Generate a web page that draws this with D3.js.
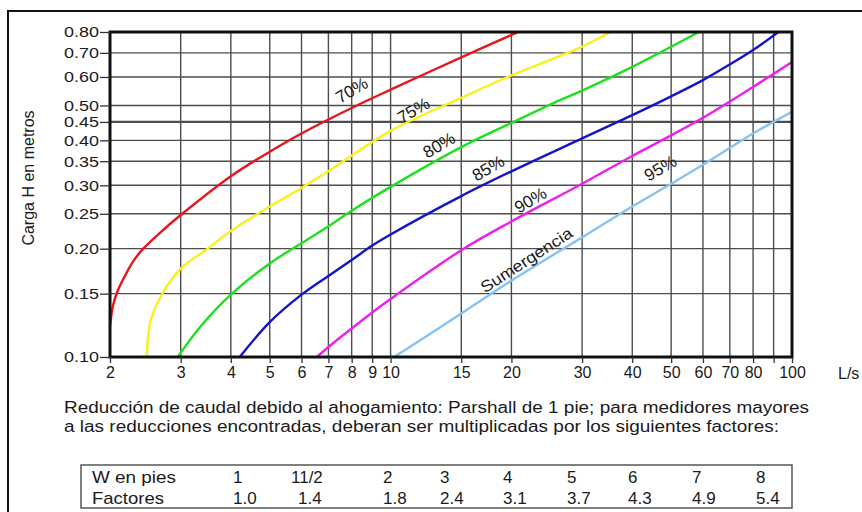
<!DOCTYPE html>
<html lang="es">
<head>
  <meta charset="UTF-8">
  <title>Sumergencia Parshall</title>
</head>
<body>
<style>
  * {
    padding: 0;
    margin: 0;
  }

  #app svg {
    display: block;
    background: #fff;
    font-family: "Liberation Sans", Arial, sans-serif;
  }
</style>

<div id="app"></div>

<script src="https://cdn.jsdelivr.net/npm/d3@7/dist/d3.min.js"></script>
<script>
  // ejes: caudal en L/s (log) y carga H en metros (log)
  var xTicks = [2, 3, 4, 5, 6, 7, 8, 9, 10, 15, 20, 30, 40, 50, 60, 70, 80, 100];
  var xGrid = [2, 3, 4, 5, 6, 7, 8, 9, 10, 15, 20, 30, 40, 50, 60, 70, 80, 90, 100];
  var yTicks = [0.10, 0.15, 0.20, 0.25, 0.30, 0.35, 0.40, 0.45, 0.50, 0.60, 0.70, 0.80];

  // curvas  [Q (L/s), H (m)]
  var curve70 = [[2, 0.122], [2.035, 0.139], [2.087, 0.152], [2.167, 0.166], [2.282, 0.184], [2.42, 0.20],
    [2.66, 0.221], [3, 0.248], [4, 0.318], [5, 0.372], [6, 0.418], [8, 0.492], [10, 0.553], [15, 0.68], [20.8, 0.80]];
  var curve75 = [[2.47, 0.10], [2.52, 0.125], [2.7, 0.15], [3, 0.176], [3.5, 0.20], [4, 0.224],
    [5, 0.262], [6, 0.295], [7.1, 0.332], [10, 0.425], [15, 0.525], [20, 0.606], [29.8, 0.726], [35.3, 0.80]];
  var curve80 = [[2.95, 0.10], [3.35, 0.121], [4, 0.149], [5, 0.182], [6, 0.207], [7.1, 0.233], [8, 0.255],
    [10, 0.297], [15, 0.383], [20, 0.447], [26.5, 0.518], [30, 0.55], [40, 0.64], [58.6, 0.80]];
  var curve85 = [[4.21, 0.10], [5, 0.125], [6, 0.149], [7, 0.168], [8, 0.186], [9, 0.204], [10, 0.219],
    [15, 0.28], [20, 0.328], [30, 0.405], [40, 0.47], [50, 0.53], [60, 0.588], [70, 0.65],
    [80, 0.713], [92.5, 0.80]];
  var curve90 = [[6.55, 0.10], [7.1, 0.108], [8, 0.120], [9, 0.133], [10, 0.145], [15, 0.198], [20, 0.238],
    [30, 0.303], [40, 0.362], [50, 0.413], [60, 0.462], [80, 0.563], [100, 0.66]];
  var curve95 = [[10.2, 0.10], [15, 0.132], [20, 0.163], [30, 0.215], [40, 0.262],
    [50, 0.303], [60, 0.342], [80, 0.418], [100, 0.48]];

  var curveNames = ['70%', '75%', '80%', '85%', '90%', '95%'];
  var curves = [curve70, curve75, curve80, curve85, curve90, curve95];

  // tabla de factores
  var wPies = ['1', '11/2', '2', '3', '4', '5', '6', '7', '8'];
  var factores = ['1.0', '1.4', '1.8', '2.4', '3.1', '3.7', '4.3', '4.9', '5.4'];

  var nota = [
    'Reducción de caudal debido al ahogamiento: Parshall de 1 pie; para medidores mayores',
    'a las reducciones encontradas, deberan ser multiplicadas por los siguientes factores:'
  ];

  function draw() {
    var W = 862, H = 512,
      left = 110, right = 792, top = 32, bottom = 357,
      colors = ['#e5161c', '#f7f21c', '#1fe01f', '#1414c8', '#ee1eee', '#86c3f2'],
      // donde va cada etiqueta [Q, H, angulo]
      labelPos = [[8.0, 0.552, -30], [11.4, 0.485, -30], [13.2, 0.388, -30], [17.5, 0.335, -30], [22.3, 0.273, -30], [47, 0.335, -30]],
      svg = d3.select('#app').append('svg').attr('width', W).attr('height', H);

    var x = d3.scaleLog().domain([2, 100]).range([left, right]);
    var y = d3.scaleLog().domain([0.1, 0.8]).range([bottom, top]);

    // marco exterior
    svg.append('path')
      .attr('d', 'M8,' + H + 'V11H' + W)
      .attr('fill', 'none').attr('stroke', '#111').attr('stroke-width', 2);

    // rejilla
    var grid = svg.append('g').attr('stroke', '#4d4d4d').attr('stroke-width', 1.4);
    grid.selectAll('.v').data(xGrid).enter().append('line')
      .attr('x1', d => x(d)).attr('x2', d => x(d))
      .attr('y1', top).attr('y2', bottom);
    grid.selectAll('.h').data(yTicks).enter().append('line')
      .attr('x1', left).attr('x2', right)
      .attr('y1', d => y(d)).attr('y2', d => y(d))
      .attr('stroke-width', d => d === 0.45 ? 2.2 : 1.4);

    svg.append('clipPath').attr('id', 'clip')
      .append('rect').attr('x', left).attr('y', top).attr('width', right - left).attr('height', bottom - top);

    var lineGenerator = d3.line().x(d => x(d[0])).y(d => y(d[1])).curve(d3.curveCatmullRom.alpha(0.5));

    svg.append('g').attr('clip-path', 'url(#clip)')
      .selectAll('path').data(curves).enter().append('path')
      .attr('fill', 'none')
      .attr('stroke', (d, i) => colors[i])
      .attr('stroke-width', 2.4)
      .attr('d', lineGenerator);

    // borde del area
    svg.append('rect')
      .attr('x', left).attr('y', top).attr('width', right - left).attr('height', bottom - top)
      .attr('fill', 'none').attr('stroke', '#111').attr('stroke-width', 3);

    // ejes
    var xAxis = svg.append('g').attr('transform', 'translate(0,' + bottom + ')')
      .call(d3.axisBottom(x).tickValues(xGrid)
        .tickFormat(d => xTicks.indexOf(d) >= 0 ? d : '')
        .tickSize(6).tickPadding(4));
    var yAxis = svg.append('g').attr('transform', 'translate(' + left + ',0)')
      .call(d3.axisLeft(y).tickValues(yTicks).tickFormat(d3.format('.2f'))
        .tickSize(10).tickPadding(1));
    [xAxis, yAxis].forEach(function (g) {
      g.select('.domain').remove();
      g.selectAll('line').attr('stroke', '#333').attr('stroke-width', 1.3);
      g.selectAll('text').attr('fill', '#1a1a1a').style('font-size', '16px').style('font-family', null);
    });
    yAxis.selectAll('text').style('font-size', '15px')
      .attr('textLength', 35).attr('lengthAdjust', 'spacingAndGlyphs');

    svg.append('text').attr('x', 838).attr('y', 379)
      .attr('fill', '#1a1a1a').style('font-size', '16px').text('L/s');

    svg.append('text')
      .attr('transform', 'translate(34,178) rotate(-90)')
      .attr('text-anchor', 'middle')
      .attr('fill', '#1a1a1a').style('font-size', '16px')
      .text('Carga H en metros');

    // etiquetas de las curvas
    svg.selectAll('.lbl').data(curveNames).enter().append('text')
      .attr('transform', (d, i) => 'translate(' + x(labelPos[i][0]) + ',' + y(labelPos[i][1]) + ') rotate(' + labelPos[i][2] + ')')
      .attr('text-anchor', 'middle').attr('dy', '0.35em')
      .attr('fill', '#1a1a1a').style('font-size', '17px')
      .text(d => d);

    svg.append('text')
      .attr('transform', 'translate(' + x(21.8) + ',' + y(0.186) + ') rotate(-33)')
      .attr('text-anchor', 'middle').attr('dy', '0.35em')
      .attr('fill', '#1a1a1a').style('font-size', '16px')
      .attr('textLength', 106).attr('lengthAdjust', 'spacingAndGlyphs')
      .text('Sumergencia');

    // nota
    svg.selectAll('.nota').data(nota).enter().append('text')
      .attr('x', 64).attr('y', (d, i) => 413 + i * 19)
      .attr('textLength', (d, i) => i === 0 ? 745 : 715)
      .attr('lengthAdjust', 'spacingAndGlyphs')
      .attr('fill', '#1a1a1a').style('font-size', '16px')
      .text(d => d);

    // tabla
    var colX = [233, 291, 383, 440, 503, 567, 628, 692, 756];
    svg.append('rect').attr('x', 81).attr('y', 465).attr('width', 711).attr('height', 43)
      .attr('fill', 'none').attr('stroke', '#555').attr('stroke-width', 1.5);
    var rows = [['W en pies', wPies, 84], ['Factores', factores, 72]];
    rows.forEach(function (r, j) {
      var yy = 483 + j * 21;
      svg.append('text').attr('x', 92).attr('y', yy)
        .attr('textLength', r[2]).attr('lengthAdjust', 'spacingAndGlyphs')
        .attr('fill', '#1a1a1a').style('font-size', '17px').text(r[0]);
      svg.selectAll('.c' + j).data(r[1]).enter().append('text')
        .attr('x', (d, i) => colX[i] + (j === 1 && i === 1 ? 7 : 0))
        .attr('y', yy)
        .attr('fill', '#1a1a1a').style('font-size', '17px')
        .text(d => d);
    });
  }

  draw();
</script>

</body>
</html>
